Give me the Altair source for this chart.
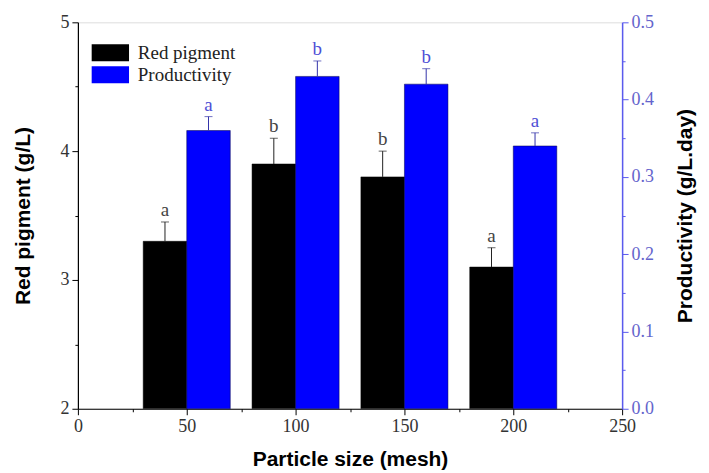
import altair as alt
import pandas as pd

sizes = [50, 100, 150, 200]
pigment = [3.3, 3.9, 3.8, 3.1]
pigment_err = [0.15, 0.2, 0.2, 0.15]
productivity = [0.36, 0.43, 0.42, 0.34]
productivity_err = [0.018, 0.02, 0.02, 0.017]
pigment_letters = ["a", "b", "b", "a"]
productivity_letters = ["a", "b", "b", "a"]
series_names = ["Red pigment", "Productivity"]
series_colors = ["#000000", "#0000ff"]

df = pd.DataFrame({
    "size": sizes,
    "pigment": pigment,
    "perr": pigment_err,
    "prod": productivity,
    "qerr": productivity_err,
    "pl": pigment_letters,
    "ql": productivity_letters,
})

SERIF = "Liberation Serif"
SANS = "Liberation Sans"
W = 545
BW = W * 20 / 250
OFF = BW / 2

x_axis = alt.Axis(
    values=list(range(0, 251, 25)),
    labelExpr="datum.value % 50 === 0 ? format(datum.value, 'd') : ''",
    tickSize={"condition": {"test": "datum.value % 50 === 0", "value": 6}, "value": 3},
    title="Particle size (mesh)", titleFont=SANS, titleFontWeight="bold", titleFontSize=21,
    titlePadding=13, labelFont=SERIF, labelFontSize=18, labelColor="#333333",
    labelOverlap=False, labelFlush=False, grid=False, domainColor="#000000", tickColor="#000000",
    labelPadding=3, domainWidth=1.2,
)
xenc = alt.X("size:Q", scale=alt.Scale(domain=[0, 250], nice=False, zero=True, padding=0), axis=x_axis)

left_axis = alt.Axis(
    values=[2, 2.5, 3, 3.5, 4, 4.5, 5],
    labelExpr="datum.value % 1 === 0 ? format(datum.value, 'd') : ''",
    tickSize={"condition": {"test": "datum.value % 1 === 0", "value": 6}, "value": 3},
    title="Red pigment (g/L)", titleFont=SANS, titleFontWeight="bold", titleFontSize=21,
    titlePadding=26, labelFont=SERIF, labelFontSize=18, labelColor="#333333",
    labelOverlap=False, labelFlush=False, grid=False, domainColor="#000000", tickColor="#000000",
    domainWidth=1.2, labelPadding=3,
)
yl_scale = alt.Scale(domain=[2, 5], nice=False, zero=False, padding=0)

right_axis = alt.Axis(
    orient="right",
    values=[round(i * 0.05, 2) for i in range(11)],
    labelExpr="abs(datum.value*10 - round(datum.value*10)) < 0.001 ? format(datum.value, '.1f') : ''",
    tickSize={"condition": {"test": "abs(datum.value*10 - round(datum.value*10)) < 0.001", "value": 6}, "value": 3},
    title="Productivity (g/L.day)", titleFont=SANS, titleFontWeight="bold", titleFontSize=21,
    titleAngle=270, titleBaseline="top", titlePadding=21, labelFont=SERIF, labelFontSize=18,
    labelColor="#6464cc", labelOverlap=False, labelFlush=False, grid=False, domainColor="#5a5aee",
    tickColor="#5a5aee", domainWidth=1.5, labelPadding=3,
)
yr_scale = alt.Scale(domain=[0, 0.5], nice=False, zero=True, padding=0)

color = alt.Color(
    "series:N",
    scale=alt.Scale(domain=series_names, range=series_colors),
    legend=alt.Legend(
        title=None, orient="none", legendX=23, legendY=21,
        symbolType="M-2.2,-1H2.2V1H-2.2Z", symbolSize=289, symbolStrokeWidth=0,
        symbolOpacity=1, labelFont=SERIF, labelFontSize=19, labelColor="#222222",
        labelOffset=18, rowPadding=2, padding=0,
    ),
)

base = alt.Chart(df)

# Left group: red pigment
lb = base.transform_calculate(series="'Red pigment'").mark_bar(
    width=BW, xOffset=-OFF, stroke="#000000", strokeWidth=0.5, clip=True
).encode(x=xenc, y=alt.Y("pigment:Q", scale=yl_scale, axis=left_axis), color=color)
lerr = base.transform_calculate(top="datum.pigment + datum.perr").mark_rule(
    xOffset=-OFF, color="#222222", strokeWidth=1
).encode(x=xenc, y=alt.Y("pigment:Q", scale=yl_scale, axis=left_axis), y2="top:Q")
lcap = base.transform_calculate(top="datum.pigment + datum.perr").mark_tick(
    xOffset=-OFF, color="#222222", thickness=1, size=8, orient="horizontal"
).encode(x=xenc, y=alt.Y("top:Q", scale=yl_scale, axis=left_axis))
ltxt = base.transform_calculate(top="datum.pigment + datum.perr").mark_text(
    dx=-OFF, dy=-6, baseline="alphabetic", font=SERIF, fontSize=19, color="#444444"
).encode(x=xenc, y=alt.Y("top:Q", scale=yl_scale, axis=left_axis), text="pl:N")
left = alt.layer(lb, lerr, lcap, ltxt)

# Right group: productivity
rb = base.transform_calculate(series="'Productivity'").mark_bar(
    width=BW, xOffset=OFF, stroke="#000044", strokeWidth=0.5
).encode(x=xenc, y=alt.Y("prod:Q", scale=yr_scale, axis=right_axis), color=color)
rerr = base.transform_calculate(top="datum.prod + datum.qerr").mark_rule(
    xOffset=OFF, color="#3333aa", strokeWidth=1
).encode(x=xenc, y=alt.Y("prod:Q", scale=yr_scale, axis=right_axis), y2="top:Q")
rcap = base.transform_calculate(top="datum.prod + datum.qerr").mark_tick(
    xOffset=OFF, color="#3333aa", thickness=1, size=8, orient="horizontal"
).encode(x=xenc, y=alt.Y("top:Q", scale=yr_scale, axis=right_axis))
rtxt = base.transform_calculate(top="datum.prod + datum.qerr").mark_text(
    dx=OFF, dy=-6, baseline="alphabetic", font=SERIF, fontSize=19, color="#4f4fd6"
).encode(x=xenc, y=alt.Y("top:Q", scale=yr_scale, axis=right_axis), text="ql:N")
right = alt.layer(rb, rerr, rcap, rtxt)

chart = alt.layer(left, right).resolve_scale(y="independent").properties(
    width=W, height=387
).configure_view(stroke="#000000", strokeWidth=1.2).configure(background="white")

chart.save("out.html", embed_options={"renderer": "svg", "actions": False})
